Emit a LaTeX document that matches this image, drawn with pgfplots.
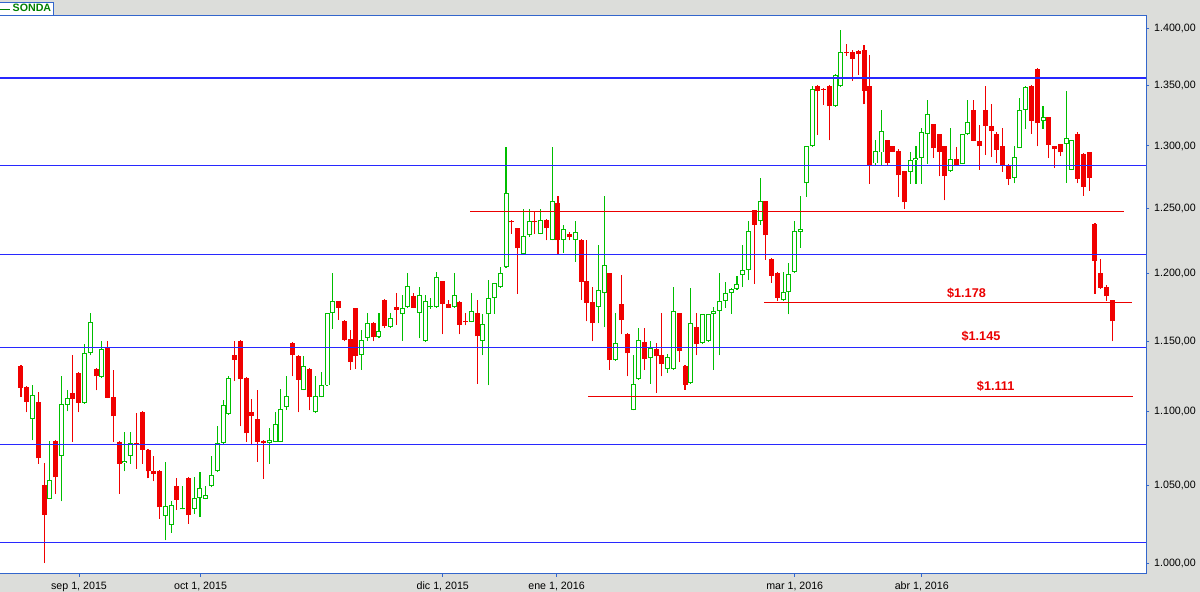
\documentclass[border=0pt]{standalone}
\usepackage{pgfplots}
\pgfplotsset{compat=1.18}
\usepackage{pgfplotstable}
\usepackage{fontspec}
\setmainfont{Liberation Sans}
\setsansfont{Liberation Sans}

\definecolor{candRed}{RGB}{240,0,0}
\definecolor{candGreen}{RGB}{0,190,0}
\definecolor{hlBlue}{RGB}{40,40,255}
\definecolor{hlRed}{RGB}{235,0,0}
\definecolor{frameBlue}{RGB}{51,102,204}
\definecolor{bgGray}{RGB}{220,221,218}
\definecolor{legGreen}{RGB}{0,128,0}

% up (green, hollow) candles: index, open, high, low, close
\pgfplotstableread{
k o h l c
2 1095.0 1118.8 1080.3 1111.6
5 1041.3 1080.1 1041.0 1053.8
7 1069.8 1125.2 1039.7 1105.3
8 1104.6 1115.3 1100.2 1109.5
11 1106.4 1148.0 1105.5 1141.3
12 1141.3 1170.3 1139.6 1163.8
14 1124.2 1150.2 1123.5 1144.2
18 1064.9 1086.1 1059.5 1066.6
19 1069.8 1086.1 1064.8 1078.5
25 1030.2 1066.0 1014.5 1036.7
26 1024.4 1040.1 1019.6 1037.4
28 1034.5 1050.0 1034.5 1035.3
30 1034.9 1056.0 1031.5 1041.9
31 1041.9 1059.3 1029.5 1048.5
32 1041.6 1050.0 1041.0 1043.9
33 1049.6 1070.0 1049.0 1057.1
34 1059.5 1090.3 1059.0 1078.5
35 1078.5 1108.3 1078.0 1104.6
36 1098.6 1125.2 1097.9 1123.5
43 1078.3 1089.0 1064.8 1080.6
44 1079.6 1099.8 1079.0 1091.6
45 1079.6 1115.8 1079.0 1101.9
46 1103.2 1125.2 1101.4 1110.9
49 1115.1 1139.2 1115.0 1132.0
51 1099.5 1125.2 1099.0 1110.9
52 1110.2 1128.0 1110.0 1118.6
53 1118.3 1170.5 1118.0 1170.1
54 1170.1 1199.9 1158.9 1179.3
59 1139.9 1158.2 1129.4 1150.7
60 1152.1 1170.3 1150.4 1163.1
62 1152.6 1170.3 1152.0 1157.2
64 1160.1 1170.3 1159.5 1166.6
66 1169.6 1183.9 1150.4 1174.0
67 1174.8 1199.9 1174.5 1190.6
69 1170.3 1189.8 1151.9 1183.7
70 1149.9 1183.9 1149.5 1179.3
71 1174.8 1181.5 1173.7 1175.6
72 1174.8 1200.7 1174.5 1197.4
75 1174.8 1199.9 1174.5 1183.7
78 1163.8 1185.4 1163.5 1171.9
80 1149.9 1169.4 1139.6 1162.3
81 1169.4 1195.1 1118.3 1181.5
82 1181.5 1193.0 1169.8 1192.7
83 1189.6 1205.0 1189.0 1200.2
84 1204.7 1299.3 1204.0 1262.4
87 1214.3 1249.7 1214.0 1228.4
88 1228.9 1249.7 1228.1 1240.2
90 1230.4 1249.7 1230.0 1241.0
92 1225.4 1299.3 1225.0 1255.8
94 1225.4 1237.2 1215.7 1233.9
96 1225.4 1240.4 1208.9 1231.5
100 1174.8 1221.3 1162.8 1187.4
101 1185.2 1259.9 1160.1 1206.2
103 1136.3 1170.3 1136.0 1148.5
106 1101.4 1140.1 1101.0 1119.3
107 1122.8 1159.6 1122.5 1150.7
109 1137.7 1150.2 1119.7 1144.9
112 1129.9 1140.6 1127.1 1138.7
113 1129.9 1189.8 1129.5 1171.9
116 1120.0 1189.1 1119.5 1163.1
118 1148.5 1170.0 1148.2 1169.8
119 1149.9 1169.8 1149.5 1169.4
120 1169.4 1174.8 1129.4 1171.9
121 1171.9 1200.4 1139.6 1179.3
122 1179.3 1193.6 1174.3 1185.2
123 1185.2 1189.3 1169.8 1188.1
124 1188.1 1198.1 1187.5 1191.9
125 1198.6 1221.3 1189.6 1202.4
126 1202.4 1240.2 1194.9 1232.3
128 1239.9 1274.0 1237.2 1255.6
132 1179.9 1201.0 1179.5 1186.0
133 1185.7 1207.6 1169.5 1199.6
134 1201.0 1240.4 1200.5 1232.5
135 1231.6 1259.9 1219.6 1233.9
136 1269.8 1300.3 1259.3 1299.9
137 1299.9 1350.2 1299.5 1347.3
141 1332.8 1360.0 1332.5 1359.2
142 1349.6 1398.5 1349.0 1378.9
148 1285.8 1305.1 1283.9 1295.8
149 1294.7 1329.9 1283.9 1312.2
154 1278.8 1295.3 1269.4 1288.6
155 1288.6 1300.2 1269.4 1290.4
156 1290.1 1315.0 1269.4 1311.6
157 1309.7 1338.3 1285.5 1326.3
161 1279.6 1315.0 1279.0 1289.4
163 1285.2 1310.2 1285.0 1310.0
164 1309.5 1338.3 1309.0 1320.0
172 1274.3 1300.2 1269.8 1291.0
173 1298.3 1340.0 1298.0 1329.7
174 1329.7 1350.2 1314.2 1349.0
177 1320.2 1333.4 1314.2 1323.8
181 1301.5 1345.5 1270.3 1306.5
182 1280.7 1305.3 1280.5 1305.1
}\upTbl

% down (red, filled) candles: index, open, high, low, close
\pgfplotstableread{
k o h l c
0 1132.2 1132.5 1110.6 1116.9
1 1117.4 1118.0 1099.5 1107.1
3 1106.9 1113.9 1064.8 1068.2
4 1050.7 1065.3 1000.2 1031.2
6 1080.1 1080.5 1044.9 1055.5
9 1113.2 1140.1 1079.6 1109.2
10 1127.3 1127.8 1099.5 1106.4
13 1130.1 1130.5 1114.8 1124.7
15 1144.9 1150.2 1109.5 1109.9
16 1110.4 1129.4 1079.6 1096.8
17 1079.2 1080.0 1044.9 1064.8
20 1078.5 1099.3 1061.3 1077.5
21 1100.0 1100.5 1064.8 1074.2
22 1074.0 1074.5 1054.9 1059.5
23 1060.0 1070.0 1052.9 1057.8
24 1060.0 1060.3 1028.6 1035.8
27 1050.0 1055.3 1034.3 1040.8
29 1055.3 1055.5 1025.1 1030.8
37 1140.1 1150.2 1121.8 1136.5
38 1150.2 1150.5 1089.9 1123.2
39 1123.7 1124.0 1079.6 1085.1
40 1100.0 1109.0 1077.0 1097.4
41 1095.2 1115.3 1066.1 1079.6
42 1080.1 1080.5 1054.7 1078.3
47 1148.7 1149.0 1124.7 1139.6
48 1139.4 1139.6 1099.5 1122.5
50 1130.1 1130.5 1100.9 1110.6
55 1179.3 1179.5 1165.5 1174.5
56 1164.8 1165.0 1149.7 1150.9
57 1151.6 1158.2 1129.4 1135.3
58 1174.3 1174.5 1130.1 1138.9
61 1163.3 1163.5 1149.7 1152.6
63 1180.2 1180.5 1159.5 1160.6
65 1175.0 1185.4 1161.8 1173.0
68 1183.2 1185.4 1174.0 1174.5
73 1194.4 1194.6 1154.8 1177.1
74 1177.3 1180.2 1174.0 1174.5
76 1178.8 1179.0 1154.8 1162.0
77 1164.8 1170.5 1161.3 1163.5
79 1170.3 1180.2 1119.7 1153.3
85 1240.4 1240.6 1230.2 1239.0
86 1234.9 1235.0 1184.6 1218.9
89 1240.4 1247.9 1230.4 1239.0
91 1241.2 1241.4 1225.2 1234.3
93 1254.4 1259.9 1214.0 1225.2
95 1230.2 1231.5 1225.2 1228.1
97 1225.7 1226.0 1180.2 1193.8
98 1194.4 1225.7 1164.3 1178.2
99 1178.8 1189.8 1149.7 1162.8
102 1200.4 1200.6 1129.4 1136.3
104 1177.3 1199.1 1154.8 1165.0
105 1155.3 1155.5 1124.7 1141.1
108 1149.5 1159.6 1129.6 1137.4
110 1144.6 1148.7 1113.4 1138.9
111 1140.1 1170.3 1124.7 1133.2
114 1170.3 1170.5 1134.9 1142.6
115 1132.2 1132.5 1115.5 1119.0
117 1160.3 1170.3 1139.6 1148.2
127 1248.7 1249.0 1192.3 1237.4
129 1255.6 1256.0 1210.2 1228.9
130 1211.0 1212.0 1193.1 1198.3
131 1199.9 1201.0 1179.6 1181.5
138 1350.2 1350.5 1309.1 1345.3
139 1347.8 1348.0 1334.2 1346.8
140 1350.2 1350.5 1304.5 1332.8
143 1379.4 1386.3 1375.7 1378.4
144 1378.9 1380.9 1354.6 1373.2
145 1379.8 1381.1 1359.5 1377.3
146 1381.1 1384.9 1334.4 1346.1
147 1350.2 1376.3 1269.4 1283.9
150 1305.1 1305.3 1283.9 1286.6
151 1299.6 1299.8 1295.0 1295.5
152 1296.1 1297.7 1259.3 1276.2
153 1279.9 1280.0 1249.5 1254.8
158 1318.0 1318.2 1290.1 1298.0
159 1310.0 1310.2 1275.4 1295.5
160 1300.2 1300.4 1256.4 1275.4
162 1289.6 1299.4 1284.5 1284.7
165 1329.9 1338.3 1304.0 1304.3
166 1304.3 1317.2 1280.7 1299.6
167 1329.9 1350.2 1292.5 1316.3
168 1316.3 1335.0 1290.9 1312.2
169 1310.0 1311.6 1286.6 1296.9
170 1300.2 1315.0 1279.1 1283.9
171 1284.7 1285.0 1268.5 1273.5
175 1350.2 1350.5 1310.0 1321.0
176 1364.7 1365.0 1299.6 1318.8
178 1324.1 1324.3 1290.1 1301.2
179 1300.2 1300.4 1282.5 1297.2
180 1301.8 1302.0 1291.7 1294.7
183 1310.0 1311.9 1269.8 1273.5
184 1293.7 1294.0 1260.1 1267.1
185 1295.3 1295.5 1264.1 1274.3
186 1238.0 1238.2 1184.6 1209.3
187 1200.4 1211.0 1188.5 1189.1
188 1189.8 1191.3 1179.6 1182.7
189 1180.2 1180.4 1149.7 1164.3
}\downTbl

\pgfplotsset{
  candle/.style={draw=none, mark=none, forget plot,
    error bars/.cd, y dir=plus, y explicit, error mark=none},
}

\begin{document}
\begin{tikzpicture}
\useasboundingbox (0pt,0pt) rectangle (900pt,444pt);
\fill[bgGray] (0pt,0pt) rectangle (900pt,444pt);
\begin{axis}[
  at={(-0.75pt,13.8pt)}, anchor=south west,
  scale only axis, width=860.25pt, height=418.4pt,
  xmin=-3.81, xmax=194.84,
  ymode=log, ymin=993.7, ymax=1411.1,
  axis background/.style={fill=white},
  axis line style={frameBlue, line width=0.75pt},
  tick style={frameBlue, line width=0.75pt},
  tick align=outside, major tick length=2.6pt,
  ytick pos=right, xtick pos=bottom,
  yminorticks=false, xminorticks=false,
  ytick={1000,1050,1100,1150,1200,1250,1300,1350,1400},
  yticklabels={{1.000,00},{1.050,00},{1.100,00},{1.150,00},{1.200,00},{1.250,00},{1.300,00},{1.350,00},{1.400,00}},
  xtick={10.05,31.1,73.05,92.75,134,156},
  xticklabels={{sep 1, 2015},{oct 1, 2015},{dic 1, 2015},{ene 1, 2016},{mar 1, 2016},{abr 1, 2016}},
  ticklabel style={font=\fontsize{8}{9}\selectfont, text=black},
  yticklabel style={anchor=west, xshift=0pt},
  legend style={at={(0,1)}, anchor=south west, draw=frameBlue, fill=white,
    line width=0.75pt, font=\bfseries\fontsize{8}{9}\selectfont, text=legGreen,
    inner xsep=0.5pt, inner ysep=0pt, outer sep=0pt,
    nodes={inner xsep=1.5pt, inner ysep=1.2pt}},
  legend image code/.code={\draw[#1] (0pt,0pt) -- (7.5pt,0pt);},
]
% --- green candles: wicks, outline body, white interior
\addplot[candle, error bar style={draw=candGreen, line width=0.8pt}]
  table[x=k, y=l, y error plus expr=\thisrow{h}-\thisrow{l}]{\upTbl};
\addplot[candle, error bar style={draw=candGreen, line width=3.75pt}]
  table[x=k, y=o, y error plus expr=\thisrow{c}-\thisrow{o}]{\upTbl};
\addplot[candle, error bar style={draw=white, line width=2.25pt}]
  table[x=k, y expr=\thisrow{o}*1.00063, y error plus expr={max(0,\thisrow{c}/1.00063-\thisrow{o}*1.00063)}]{\upTbl};
% --- red candles: wicks and filled body
\addplot[candle, error bar style={draw=candRed, line width=0.8pt}]
  table[x=k, y=l, y error plus expr=\thisrow{h}-\thisrow{l}]{\downTbl};
\addplot[candle, error bar style={draw=candRed, line width=3.75pt}]
  table[x=k, y=c, y error plus expr=\thisrow{o}-\thisrow{c}]{\downTbl};
% --- horizontal support / resistance lines
\addplot[draw=hlBlue, line width=0.8pt, forget plot] coordinates {(-3.81,1356.8) (194.84,1356.8)};
\addplot[draw=hlBlue, line width=0.8pt, forget plot] coordinates {(-3.81,1283.9) (194.84,1283.9)};
\addplot[draw=hlBlue, line width=0.8pt, forget plot] coordinates {(-3.81,1214.0) (194.84,1214.0)};
\addplot[draw=hlBlue, line width=0.8pt, forget plot] coordinates {(-3.81,1145.2) (194.84,1145.2)};
\addplot[draw=hlBlue, line width=0.8pt, forget plot] coordinates {(-3.81,1077.9) (194.84,1077.9)};
\addplot[draw=hlBlue, line width=0.8pt, forget plot] coordinates {(-3.81,1013.5) (194.84,1013.5)};
\addplot[draw=hlRed, line width=0.8pt, forget plot] coordinates {(77.8,1247.9) (191.0,1247.9)};
\addplot[draw=hlRed, line width=0.8pt, forget plot] coordinates {(128.7,1178.5) (192.5,1178.5)};
\addplot[draw=hlRed, line width=0.8pt, forget plot] coordinates {(98.2,1110.9) (192.6,1110.9)};
\node[text=hlRed, font=\bfseries\fontsize{9.5}{10}\selectfont] at (axis cs:163.75,1184.7) {\$1.178};
\node[text=hlRed, font=\bfseries\fontsize{9.5}{10}\selectfont] at (axis cs:166.26,1153.3) {\$1.145};
\node[text=hlRed, font=\bfseries\fontsize{9.5}{10}\selectfont] at (axis cs:168.8,1118.0) {\$1.111};
\addlegendimage{legGreen, line width=0.75pt}
\addlegendentry{SONDA}
\end{axis}
\end{tikzpicture}
\end{document}
